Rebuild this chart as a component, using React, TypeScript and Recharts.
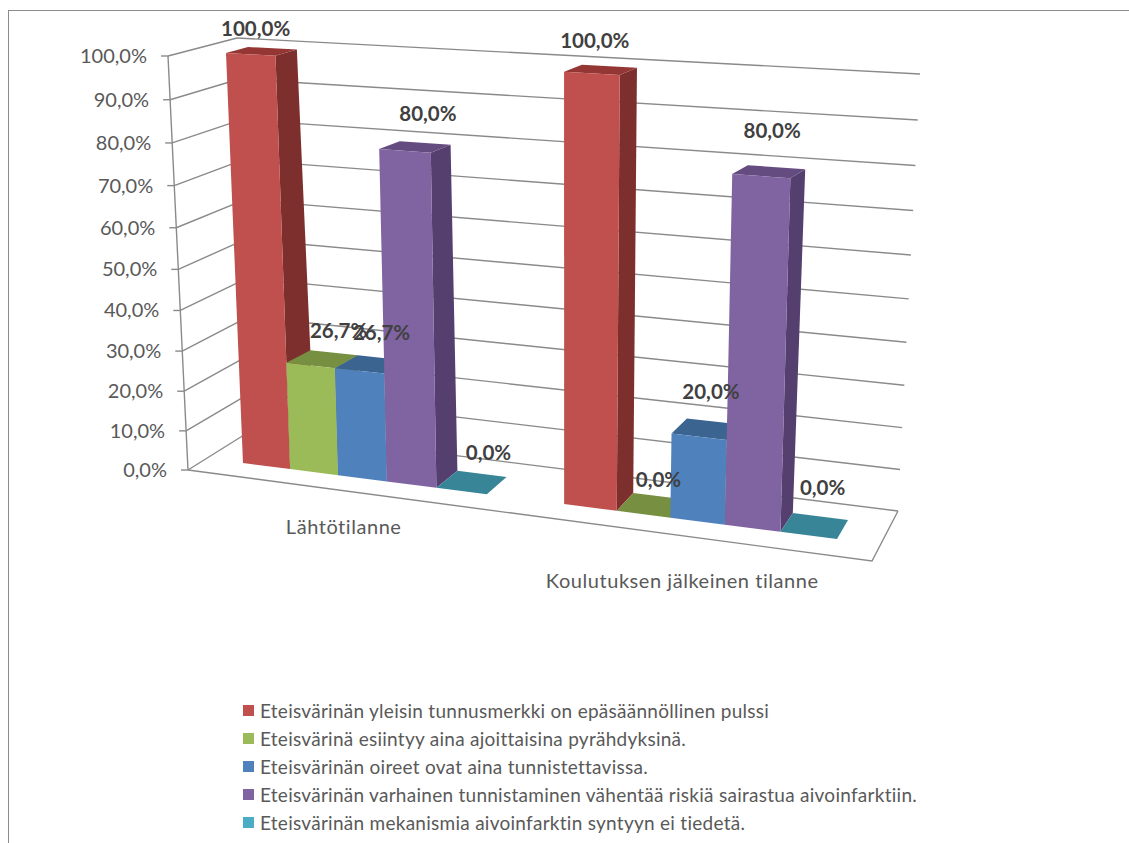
import { BarChart, Bar, XAxis, YAxis, CartesianGrid, Legend } from "recharts";

const categories = ["Lähtötilanne", "Koulutuksen jälkeinen tilanne"];
const seriesNames = [
  "Eteisvärinän yleisin tunnusmerkki on epäsäännöllinen pulssi",
  "Eteisvärinä esiintyy aina ajoittaisina pyrähdyksinä.",
  "Eteisvärinän oireet ovat aina tunnistettavissa.",
  "Eteisvärinän varhainen tunnistaminen vähentää riskiä sairastua aivoinfarktiin.",
  "Eteisvärinän mekanismia aivoinfarktin syntyyn ei tiedetä.",
];
const pulseValues = [100, 100];
const attackValues = [26.7, 0];
const symptomValues = [26.7, 20];
const strokeRiskValues = [80, 80];
const mechanismValues = [0, 0];
const seriesValues = [pulseValues, attackValues, symptomValues, strokeRiskValues, mechanismValues];
const percentTicks = [0, 10, 20, 30, 40, 50, 60, 70, 80, 90, 100];

const data = categories.map((name, c) => {
  const row: Record<string, string | number> = { name };
  seriesValues.forEach((values, s) => {
    row[`s${s}`] = values[c];
  });
  return row;
});

// front, side and top shade of each series
const SHADES = [
  { front: "#C0504D", side: "#7D2F2D", top: "#933634" },
  { front: "#9BBB59", side: "#5F7530", top: "#768F40" },
  { front: "#4F81BD", side: "#2F4F75", top: "#3C6491" },
  { front: "#8064A2", side: "#543F6E", top: "#644C80" },
  { front: "#4BACC6", side: "#296475", top: "#388598" },
];

// data label nudge from the bar's top edge, per series and category
const LABEL_NUDGE = [
  [[5, -26], [3, -33]],
  [[28, -35], [15, -35]],
  [[22, -39], [12, -46]],
  [[23, -38], [11, -46]],
  [[27, -39], [14, -48]],
];

const WIDTH = 1129;
const HEIGHT = 843;
const PLOT_LEFT = 60;
const PLOT_W = 1040;
const PLOT_H = 800;
const BAND_GAP = 60; // each side of a cluster, in the flat layout

type Pt = [number, number];
type Quad = [Pt, Pt, Pt, Pt]; // TL, TR, BR, BL

// homography from the unit square onto a quad
function homography([p0, p1, p2, p3]: Quad) {
  const dx1 = p1[0] - p2[0];
  const dx2 = p3[0] - p2[0];
  const sx = p0[0] - p1[0] + p2[0] - p3[0];
  const dy1 = p1[1] - p2[1];
  const dy2 = p3[1] - p2[1];
  const sy = p0[1] - p1[1] + p2[1] - p3[1];
  const den = dx1 * dy2 - dx2 * dy1;
  const g = (sx * dy2 - dx2 * sy) / den;
  const h = (dx1 * sy - sx * dy1) / den;
  const a = p1[0] - p0[0] + g * p1[0];
  const b = p3[0] - p0[0] + h * p3[0];
  const d = p1[1] - p0[1] + g * p1[1];
  const e = p3[1] - p0[1] + h * p3[1];
  return (u: number, v: number): Pt => {
    const w = g * u + h * v + 1;
    return [(a * u + b * v + p0[0]) / w, (d * u + e * v + p0[1]) / w];
  };
}

const barFront = homography([[226, 53], [853, 88], [837, 539], [243, 463]]);
const barBack = homography([[248, 47], [868, 80], [848, 520], [269, 447]]);
const backWall = homography([[237, 38], [920, 74], [898, 511], [252, 430]]);
const sideWall = homography([[168, 56], [237, 38], [252, 430], [188, 470]]);
const FLOOR_FRONT_RIGHT: Pt = [872, 561];

const toS = (x: number) => (x - PLOT_LEFT - BAND_GAP) / (PLOT_W - 2 * BAND_GAP);
const toT = (y: number) => y / PLOT_H;
const points = (pts: Pt[]) => pts.map((p) => p.join(",")).join(" ");
const formatPercent = (v: number) => `${v.toFixed(1).replace(".", ",")}%`;

const LINE = "#8A8A8A";
const TEXT = "#595959";
const FONT = "Lato, sans-serif";

function Bar3D({ x, y, width, height, series }: any) {
  const sL = toS(x);
  const sR = toS(x + width);
  const tTop = toT(y);
  const tBase = toT(y + height);
  const shade = SHADES[series];
  return (
    <g>
      <polygon
        points={points([barFront(sR, tTop), barFront(sR, tBase), barBack(sR, tBase), barBack(sR, tTop)])}
        fill={shade.side}
      />
      <polygon
        points={points([barFront(sL, tTop), barFront(sR, tTop), barBack(sR, tTop), barBack(sL, tTop)])}
        fill={shade.top}
      />
      {height > 0 && (
        <polygon
          points={points([barFront(sL, tTop), barFront(sR, tTop), barFront(sR, tBase), barFront(sL, tBase)])}
          fill={shade.front}
        />
      )}
    </g>
  );
}

function ValueLabel({ x, y, width, value, index, series }: any) {
  const [px, py] = barFront(toS(x + width / 2), toT(y));
  const [dx, dy] = LABEL_NUDGE[series][index];
  return (
    <text
      x={px + dx}
      y={py + dy}
      textAnchor="middle"
      dominantBaseline="central"
      fontFamily={FONT}
      fontSize={20.5}
      fontWeight={700}
      fill="#404040"
    >
      {formatPercent(Number(value))}
    </text>
  );
}

function gridLine({ y1 }: any) {
  const t = toT(y1);
  const a = sideWall(0, t);
  const b = sideWall(1, t);
  const c = backWall(1, t);
  const corner = backWall(0, t);
  const isFloor = Math.abs(t - 1) < 1e-6;
  return (
    <g key={y1} fill="none" stroke={LINE} strokeWidth={1.4}>
      <polyline points={points([a, b])} />
      <polyline points={points([corner, c])} />
      {isFloor && (
        <>
          <polyline points={points([sideWall(0, 0), a])} />
          <polyline points={points([a, FLOOR_FRONT_RIGHT, c])} />
        </>
      )}
    </g>
  );
}

function PercentTick({ y, payload }: any) {
  const [px, py] = sideWall(0, toT(y));
  return (
    <g>
      <line x1={px - 7} y1={py} x2={px} y2={py} stroke={LINE} strokeWidth={1.4} />
      <text
        x={px - 21}
        y={py - 1}
        textAnchor="end"
        dominantBaseline="central"
        fontFamily={FONT}
        fontSize={20}
        fill={TEXT}
      >
        {formatPercent(payload.value)}
      </text>
    </g>
  );
}

function CategoryTick({ x, payload }: any) {
  const s = toS(x);
  const [px, py] = barFront(s, 1);
  return (
    <text
      x={px - 20 + 6 * s}
      y={py + 43 + 20 * s}
      textAnchor="middle"
      dominantBaseline="central"
      fontFamily={FONT}
      fontSize={20}
      letterSpacing={0.55}
      fill={TEXT}
    >
      {payload.value}
    </text>
  );
}

function LegendList({ payload }: any) {
  return (
    <div style={{ fontFamily: FONT, fontSize: 19, letterSpacing: 0.27, color: TEXT }}>
      {(payload ?? []).map((item: any) => (
        <div key={item.value} style={{ display: "flex", alignItems: "center", height: 28.2, whiteSpace: "nowrap" }}>
          <span style={{ width: 11, height: 11, marginRight: 6, background: item.color }} />
          {item.value}
        </div>
      ))}
    </div>
  );
}

export default function App() {
  return (
    <div style={{ position: "absolute", left: 0, top: 0, width: WIDTH, height: HEIGHT, overflow: "hidden", background: "#fff" }}>
      <div
        style={{
          position: "absolute",
          left: 8,
          top: 10,
          right: 0,
          bottom: 0,
          borderLeft: "1.5px solid #8C8C8C",
          borderTop: "1.5px solid #8C8C8C",
        }}
      />
      <BarChart
        width={WIDTH}
        height={HEIGHT}
        data={data}
        margin={{ top: 0, right: WIDTH - PLOT_LEFT - PLOT_W, bottom: 0, left: 0 }}
        barGap={0}
        barCategoryGap={BAND_GAP}
      >
        <CartesianGrid vertical={false} horizontal={gridLine} />
        <XAxis dataKey="name" height={HEIGHT - PLOT_H} axisLine={false} tickLine={false} tick={CategoryTick} interval={0} />
        <YAxis
          type="number"
          width={PLOT_LEFT}
          domain={[0, 100]}
          ticks={percentTicks}
          interval={0}
          axisLine={false}
          tickLine={false}
          tick={PercentTick}
        />
        <Legend
          layout="vertical"
          align="center"
          verticalAlign="middle"
          itemSorter={null}
          content={LegendList}
          wrapperStyle={{ position: "absolute", left: 243, top: 696, width: "auto", bottom: "auto" }}
        />
        {seriesNames.map((name, s) => (
          <Bar
            key={name}
            dataKey={`s${s}`}
            name={name}
            fill={SHADES[s].front}
            isAnimationActive={false}
            shape={(props: any) => <Bar3D {...props} series={s} />}
            label={(props: any) => <ValueLabel {...props} series={s} />}
          />
        ))}
      </BarChart>
    </div>
  );
}
